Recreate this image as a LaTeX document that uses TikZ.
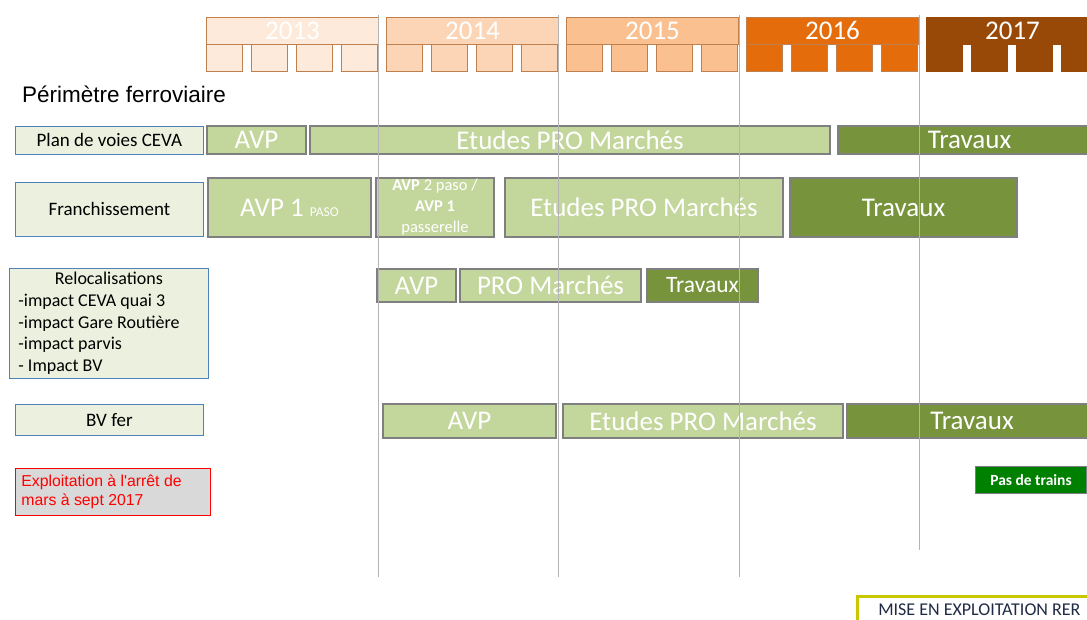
\documentclass[tikz,border=0pt]{standalone}
\usepackage{fontspec}
\setmainfont{Carlito}
\newfontfamily\arialfont{Liberation Sans}
\usetikzlibrary{positioning}

\definecolor{yearA}{HTML}{FDEADA}
\definecolor{yearB}{HTML}{FBD5B5}
\definecolor{yearC}{HTML}{FAC090}
\definecolor{yearD}{HTML}{E46C0A}
\definecolor{yearE}{HTML}{984807}
\definecolor{yearline}{HTML}{C0804D}
\definecolor{studyfill}{HTML}{C3D69B}
\definecolor{worksfill}{HTML}{77933C}
\definecolor{barline}{HTML}{7F7F7F}
\definecolor{labelfill}{HTML}{EBF1DE}
\definecolor{labelline}{HTML}{4F81BD}
\definecolor{gridgray}{HTML}{B4B4B4}
\definecolor{notrain}{HTML}{008000}
\definecolor{rerline}{HTML}{C8C800}
\definecolor{rertext}{HTML}{1F2A44}

\begin{document}
\begin{tikzpicture}[
    x=1pt, y=-1pt,
    yearband/.style={draw=yearline, line width=1pt, anchor=north west, inner sep=0pt,
      minimum width=172, minimum height=27, text height=17.5pt, text depth=0pt,
      text=white, font=\fontsize{27}{30}\selectfont},
    rowlabel/.style={draw=labelline, fill=labelfill, line width=0.8pt, anchor=north west,
      inner sep=0pt, align=center, font=\fontsize{19}{22}\selectfont},
    studybar/.style={draw=barline, fill=studyfill, line width=2pt, anchor=north west,
      inner sep=0pt, align=center, text=white, font=\fontsize{27}{30}\selectfont},
    worksbar/.style={studybar, fill=worksfill}
  ]
  \useasboundingbox (0,0) rectangle (1087,619);
  \clip (0,0) rectangle (1087,619);

  % years (x/year/fill/edge)
  \foreach \xpos/\yr/\col/\edge in {206/2013/yearA/yearline, 386/2014/yearB/yearline,
      566/2015/yearC/yearline, 746/2016/yearD/yearline, 926/2017/yearE/yearE}
  {
    \node[yearband, fill=\col, draw=\edge] (year\yr) at (\xpos,17) {\yr};
    \foreach \k in {0,...,3}
      \draw[\edge, line width=1pt, fill=\col] (\xpos+\k*45,44) rectangle ++(36,27);
  }

  \node[anchor=west, inner sep=0pt, font=\arialfont\fontsize{22.5}{26}\selectfont] (perimetre) at (22,94) {Périmètre ferroviaire};

  % row labels
  \node[rowlabel, minimum width=199, minimum height=110, align=flush left, text width=181,
    inner xsep=9pt, font=\fontsize{18}{21.7}\selectfont] (lblreloc) at (9,268)
    {\makebox[\hsize]{Relocalisations}\\-impact CEVA quai 3\\-impact Gare Routière\\-impact parvis\\- Impact BV};
  \node[rowlabel, minimum width=188, minimum height=28] (lblplan) at (15,126) {Plan de voies CEVA};
  \node[rowlabel, minimum width=188, minimum height=54] (lblfranch) at (15,182) {Franchissement};
  \node[rowlabel, minimum width=188, minimum height=31] (lblbv) at (15,404) {BV fer};
  \node[rowlabel, draw=red, fill=black!15, text=red, minimum width=193, minimum height=47,
    align=flush left, text width=183, inner xsep=6pt, font=\arialfont\fontsize{15.8}{19.5}\selectfont] (lblexpl) at (15,468)
    {Exploitation à l'arrêt de\\mars à sept 2017};

  % bars (name/style/x/y/width/height/text)
  \foreach \name/\style/\xpos/\ypos/\w/\h/\desc in {
      planavp/studybar/206/125/99/28/{AVP},
      planpro/studybar/309/125/520/28/{Etudes PRO Marchés},
      plantrx/worksbar/837/125/263/28/{Travaux},
      franchavp/studybar/207/177/163/59/{AVP 1 {\fontsize{13.5}{16}\selectfont PASO}},
      franchpro/studybar/504/177/278/59/{Etudes PRO Marchés},
      franchtrx/worksbar/789/177/227/59/{Travaux},
      relocavp/studybar/376/268/79/33/{AVP},
      relocpro/studybar/459/268/181/33/{PRO Marchés},
      reloctrx/worksbar/646/268/111/33/{\fontsize{23.5}{26}\selectfont Travaux},
      bvavp/studybar/382/403/173/34/{AVP},
      bvpro/studybar/562/403/280/34/{Etudes PRO Marchés},
      bvtrx/worksbar/846/403/250/34/{Travaux}}
  {
    \node[\style, minimum width=\w, minimum height=\h] (\name) at (\xpos,\ypos) {\desc};
  }
  \node[studybar, minimum width=118, minimum height=59, font=\fontsize{16.5}{21}\selectfont]
    (franchpas) at (375,177) {\textbf{AVP} 2 paso /\\\textbf{AVP 1}\\passerelle};

  \node[draw=barline, fill=notrain, line width=1pt, anchor=north west, inner sep=0pt,
    minimum width=111, minimum height=27, text=white, font=\bfseries\fontsize{15.5}{18}\selectfont]
    (notrains) at (975,466) {Pas de trains};

  \node[draw=rerline, line width=2.5pt, anchor=north west, inner xsep=21pt, inner ysep=8pt,
    text=rertext, font=\fontsize{18}{20}\selectfont] (rer) at (856,595) {MISE EN EXPLOITATION RER};

  % year limits
  \foreach \xpos/\yend in {378/577, 558/577, 739/577, 919/550}
    \draw[gridgray, line width=1pt] (\xpos,15) -- (\xpos,\yend);
\end{tikzpicture}
\end{document}
